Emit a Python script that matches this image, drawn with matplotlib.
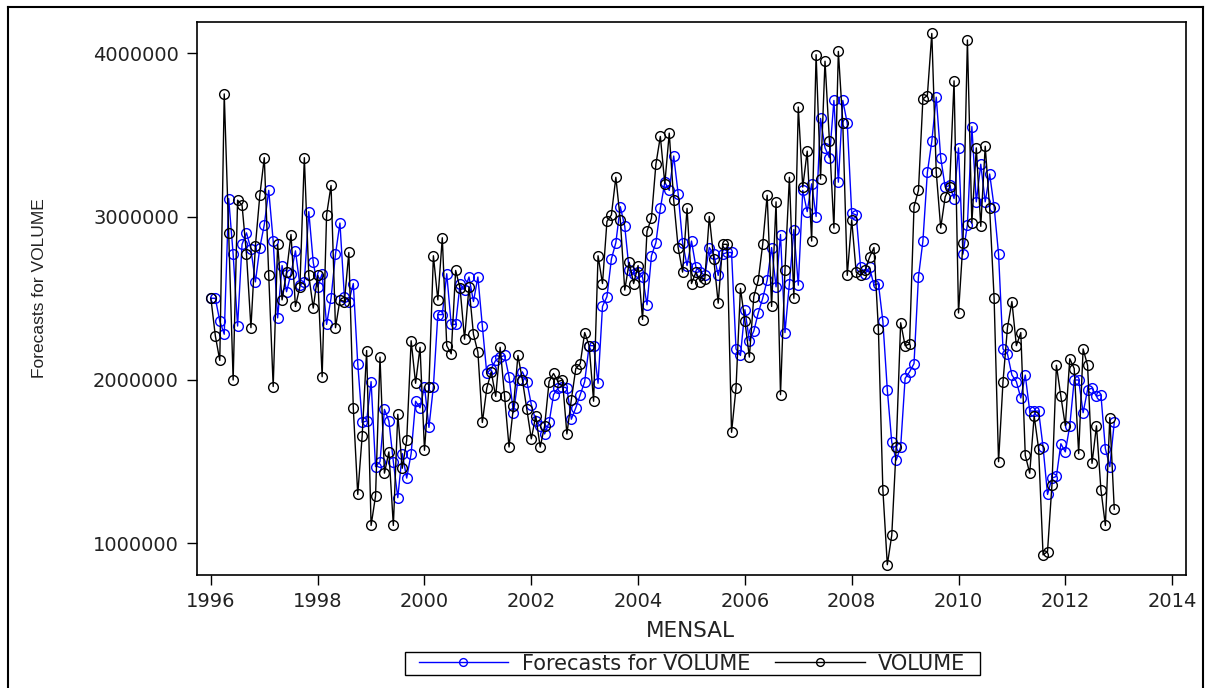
#!/usr/bin/env python3
"""Monthly VOLUME series with one-step forecasts (SAS-style plot)."""

import numpy as np
import matplotlib
matplotlib.use('Agg')
import matplotlib.pyplot as plt
from matplotlib.lines import Line2D
from matplotlib.patches import Rectangle
from matplotlib.ticker import FuncFormatter

# monthly values Jan 1996 .. Dec 2012, in millions
volume = [
    2.50, 2.27, 2.12, 3.75, 2.90, 2.00, 3.10, 3.07, 2.77, 2.32, 2.82, 3.13,  # 1996
    3.36, 2.64, 1.96, 2.83, 2.49, 2.66, 2.89, 2.45, 2.57, 3.36, 2.64, 2.44,  # 1997
    2.64, 2.02, 3.01, 3.19, 2.32, 2.49, 2.48, 2.78, 1.83, 1.30, 1.66, 2.18,  # 1998
    1.11, 1.29, 2.14, 1.43, 1.56, 1.11, 1.79, 1.46, 1.63, 2.24, 1.98, 2.20,  # 1999
    1.57, 1.96, 2.76, 2.49, 2.87, 2.21, 2.16, 2.67, 2.56, 2.25, 2.57, 2.28,  # 2000
    2.17, 1.74, 1.95, 2.05, 1.90, 2.20, 1.90, 1.59, 1.84, 2.15, 2.00, 1.82,  # 2001
    1.64, 1.78, 1.59, 1.72, 1.99, 2.04, 1.99, 2.00, 1.67, 1.88, 2.07, 2.10,  # 2002
    2.29, 2.21, 1.87, 2.76, 2.59, 2.97, 3.01, 3.24, 2.98, 2.55, 2.72, 2.59,  # 2003
    2.70, 2.37, 2.91, 2.99, 3.32, 3.49, 3.20, 3.51, 3.10, 2.81, 2.66, 3.05,  # 2004
    2.59, 2.66, 2.60, 2.62, 3.00, 2.74, 2.47, 2.83, 2.83, 1.68, 1.95, 2.56,  # 2005
    2.36, 2.14, 2.51, 2.61, 2.83, 3.13, 2.45, 3.09, 1.91, 2.67, 3.24, 2.50,  # 2006
    3.67, 3.18, 3.40, 2.85, 3.99, 3.23, 3.95, 3.46, 2.93, 4.01, 3.57, 2.64,  # 2007
    2.98, 2.66, 2.64, 2.67, 2.75, 2.81, 2.31, 1.33, 0.87, 1.05, 1.59, 2.35,  # 2008
    2.21, 2.22, 3.06, 3.16, 3.72, 3.74, 4.12, 3.27, 2.93, 3.12, 3.18, 3.83,  # 2009
    2.41, 2.84, 4.08, 2.96, 3.42, 2.94, 3.43, 3.05, 2.50, 1.50, 1.99, 2.32,  # 2010
    2.48, 2.21, 2.29, 1.54, 1.43, 1.78, 1.58, 0.93, 0.95, 1.36, 2.09, 1.90,  # 2011
    1.72, 2.13, 2.07, 1.55, 2.19, 2.09, 1.49, 1.72, 1.33, 1.11, 1.77, 1.21,  # 2012
]

forecast = [
    2.50, 2.50, 2.36, 2.28, 3.11, 2.77, 2.33, 2.83, 2.90, 2.80, 2.60, 2.81,  # 1996
    2.95, 3.16, 2.85, 2.38, 2.70, 2.54, 2.65, 2.79, 2.58, 2.60, 3.03, 2.72,  # 1997
    2.57, 2.65, 2.34, 2.50, 2.77, 2.96, 2.51, 2.48, 2.59, 2.10, 1.74, 1.75,  # 1998
    1.99, 1.47, 1.50, 1.82, 1.75, 1.50, 1.28, 1.55, 1.40, 1.55, 1.87, 1.83,  # 1999
    1.96, 1.71, 1.96, 2.40, 2.40, 2.65, 2.34, 2.34, 2.59, 2.55, 2.63, 2.48,  # 2000
    2.63, 2.33, 2.04, 2.07, 2.12, 2.14, 2.15, 2.02, 1.80, 2.00, 2.05, 1.99,  # 2001
    1.85, 1.75, 1.72, 1.67, 1.74, 1.91, 1.95, 1.96, 1.95, 1.76, 1.83, 1.91,  # 2002
    1.99, 2.21, 2.21, 1.98, 2.45, 2.51, 2.74, 2.84, 3.06, 2.94, 2.67, 2.65,  # 2003
    2.66, 2.63, 2.46, 2.76, 2.84, 3.05, 3.21, 3.16, 3.37, 3.14, 2.84, 2.70,  # 2004
    2.85, 2.69, 2.66, 2.64, 2.81, 2.77, 2.64, 2.77, 2.78, 2.78, 2.19, 2.15,  # 2005
    2.43, 2.24, 2.30, 2.41, 2.50, 2.61, 2.81, 2.57, 2.89, 2.29, 2.59, 2.92,  # 2006
    2.58, 3.16, 3.03, 3.20, 3.00, 3.60, 3.42, 3.36, 3.71, 3.21, 3.71, 3.57,  # 2007
    3.02, 3.01, 2.69, 2.65, 2.69, 2.58, 2.59, 2.36, 1.94, 1.62, 1.51, 1.59,  # 2008
    2.01, 2.05, 2.10, 2.63, 2.85, 3.27, 3.46, 3.73, 3.36, 3.18, 3.19, 3.11,  # 2009
    3.42, 2.77, 2.95, 3.55, 3.09, 3.32, 3.09, 3.26, 3.06, 2.77, 2.19, 2.16,  # 2010
    2.03, 1.99, 1.89, 2.03, 1.81, 1.81, 1.81, 1.59, 1.30, 1.40, 1.41, 1.61,  # 2011
    1.56, 1.72, 2.00, 2.00, 1.80, 1.94, 1.95, 1.90, 1.91, 1.58, 1.47, 1.74,  # 2012
]

start_year = 1996
x_ticks = list(range(1996, 2015, 2))
y_ticks = [1000000, 2000000, 3000000, 4000000]

WIDE = ['DejaVu Sans']
NARROW = ['Liberation Sans', 'DejaVu Sans']

W, H = 1215, 688


def main():
    plt.rcParams['font.family'] = WIDE

    t = start_year + np.arange(len(volume)) / 12.0
    vol = np.array(volume) * 1e6
    fc = np.array(forecast) * 1e6

    fig = plt.figure(figsize=(W / 100, H / 100), dpi=100)
    ax = fig.add_axes([197 / W, 1 - 575 / H, (1186 - 197) / W, (575 - 22) / H])

    ax.plot(t, fc, color='#0000ff', linewidth=1.0, marker='o', markersize=7,
            markerfacecolor='none', markeredgecolor='#0000ff', markeredgewidth=1.0,
            label='Forecasts for VOLUME')
    ax.plot(t, vol, color='black', linewidth=1.0, marker='o', markersize=7,
            markerfacecolor='none', markeredgecolor='black', markeredgewidth=1.0,
            label='VOLUME')

    ax.set_xlim(1995.74, 2014.26)
    ax.set_ylim(807000, 4190000)
    ax.set_xticks(x_ticks)
    ax.set_yticks(y_ticks)
    ax.yaxis.set_major_formatter(FuncFormatter(lambda v, p: '%d' % v))
    ax.tick_params(direction='out', length=7, width=1.0, labelsize=14,
                   labelcolor='#222222')
    ax.tick_params(axis='x', pad=5)
    ax.tick_params(axis='y', pad=6)

    for s in ax.spines.values():
        s.set_linewidth(1.2)

    ax.set_xlabel('MENSAL', fontsize=15.5, color='#222222')
    ax.xaxis.set_label_coords((690 - 197) / 989, (575 - 621) / 553)
    ax.set_ylabel('Forecasts for VOLUME', fontsize=12.5, family=NARROW, color='#222222')
    ax.yaxis.set_label_coords((47 - 197) / 989, (575 - 288) / 553)

    # legend content without its own frame; the SAS-style box is drawn below
    handles, labels = ax.get_legend_handles_labels()
    leg = fig.legend(handles, labels, loc='center', ncol=2, numpoints=1,
                     bbox_to_anchor=(692 / W, 1 - 663.5 / H),
                     fontsize=15, handlelength=4.3, handletextpad=0.65,
                     columnspacing=1.2, borderpad=0.05, borderaxespad=0,
                     frameon=False, markerscale=0.8)
    for txt in leg.get_texts():
        txt.set_color('#222222')
    fig.add_artist(Rectangle((405 / W, 1 - 675 / H), (980 - 405) / W, 23 / H,
                             transform=fig.transFigure, fill=False,
                             edgecolor='black', linewidth=1.0))

    # outer frame of the graph window
    fig.add_artist(Line2D([8 / W, 8 / W], [0, 1 - 7 / H], color='black', linewidth=1.5))
    fig.add_artist(Line2D([1203 / W, 1203 / W], [0, 1 - 7 / H], color='black', linewidth=1.5))
    fig.add_artist(Line2D([8 / W, 1203 / W], [1 - 7 / H, 1 - 7 / H], color='black', linewidth=1.5))

    fig.savefig('out.png', dpi=100)
    plt.close(fig)


if __name__ == '__main__':
    main()
